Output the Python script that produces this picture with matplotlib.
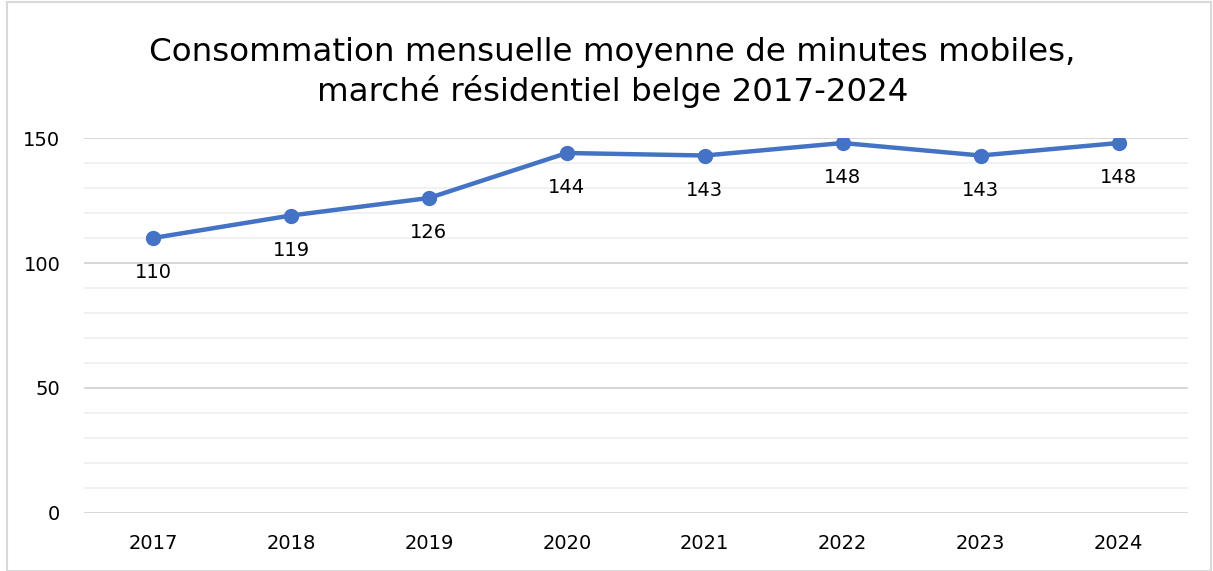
import matplotlib
matplotlib.use('Agg')
import matplotlib.pyplot as plt
from matplotlib.patches import Rectangle

# Data
years = ['2017', '2018', '2019', '2020', '2021', '2022', '2023', '2024']
minutes = [110, 119, 126, 144, 143, 148, 143, 148]

plt.rcParams['font.family'] = ['DejaVu Sans']

fig = plt.figure(figsize=(12.13, 5.71), dpi=100)
ax = fig.add_axes([0.0693, 0.1016, 0.9097, 0.6567])

x = range(len(years))
ax.plot(x, minutes, color='#4472C4', linewidth=3.2, marker='o', markersize=10, zorder=3)

# Data labels below each point
for i, v in enumerate(minutes):
    ax.annotate(str(v), (i, v), xytext=(0, -25), textcoords='offset points',
                ha='center', va='center', fontsize=14, color='black')

ax.set_xlim(-0.5, len(years) - 0.5)
ax.set_ylim(0, 150)
ax.set_xticks(list(x))
ax.set_xticklabels(years)
ax.set_yticks([0, 50, 100, 150])
ax.set_yticks(range(0, 151, 10), minor=True)
ax.tick_params(axis='both', which='both', length=0, labelsize=14, colors='black')
ax.tick_params(axis='x', pad=15)
ax.tick_params(axis='y', pad=17)

# Gridlines
ax.grid(True, axis='y', which='major', color='#D4D4D4', linewidth=1.3)
ax.grid(True, axis='y', which='minor', color='#F0F0F0', linewidth=1.3)
ax.set_axisbelow(True)
for s in ax.spines.values():
    s.set_visible(False)

fig.text(0.505, 0.873, 'Consommation mensuelle moyenne de minutes mobiles,\nmarché résidentiel belge 2017-2024',
         ha='center', va='center', fontsize=23.4, linespacing=1.3)

# Light border round the chart
fig.patches.append(Rectangle((0.006, 0.0), 0.992, 0.997, transform=fig.transFigure,
                             fill=False, edgecolor='#D9D9D9', linewidth=1.5))

fig.savefig('out.png', dpi=100)
